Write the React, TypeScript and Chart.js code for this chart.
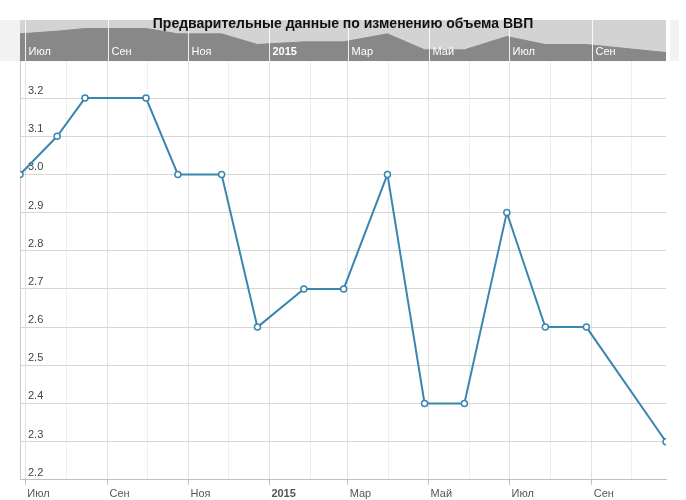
import { useEffect, useRef } from "react"
import { Chart, registerables } from "chart.js"

Chart.register(...registerables)

const title = "Предварительные данные по изменению объема ВВП"

// даты оценок и значения
const dates = [
  "2014-06-27", "2014-07-25", "2014-08-15", "2014-09-30", "2014-10-24", "2014-11-26",
  "2014-12-23", "2015-01-27", "2015-02-26", "2015-03-31", "2015-04-28", "2015-05-28",
  "2015-06-29", "2015-07-28", "2015-08-28", "2015-10-27",
]
const values = [3.0, 3.1, 3.2, 3.2, 3.0, 3.0, 2.6, 2.7, 2.7, 3.0, 2.4, 2.4, 2.9, 2.6, 2.6, 2.3]

// деления оси X (начало месяца)
const xTickDates = [
  "2014-07-01", "2014-08-01", "2014-09-01", "2014-10-01", "2014-11-01", "2014-12-01",
  "2015-01-01", "2015-02-01", "2015-03-01", "2015-04-01", "2015-05-01", "2015-06-01",
  "2015-07-01", "2015-08-01", "2015-09-01", "2015-10-01",
]
const xTickLabels = ["Июл", "", "Сен", "", "Ноя", "", "2015", "", "Мар", "", "Май", "", "Июл", "", "Сен", ""]
const yTicks = [2.2, 2.3, 2.4, 2.5, 2.6, 2.7, 2.8, 2.9, 3.0, 3.1, 3.2]

const FONT = "'Liberation Sans', Arial, sans-serif"
const DAY = 86400000
const toDay = (s: string) => Date.parse(s) / DAY

const navigatorPlugin = {
  id: "navigator",
  beforeDatasetsDraw(chart: any) {
    const { ctx, chartArea, scales } = chart
    const nav = scales.yNav
    const h = nav.bottom - nav.top
    ctx.save()
    ctx.fillStyle = "#f2f2f2"
    ctx.fillRect(0, nav.top, chartArea.left, h)
    ctx.fillRect(chartArea.right + 4, nav.top, 9, h)
    ctx.fillStyle = "#d3d3d3"
    ctx.fillRect(chartArea.left, nav.top, chartArea.right - chartArea.left, h)
    ctx.restore()
  },
  afterDatasetsDraw(chart: any) {
    const { ctx, scales } = chart
    const nav = scales.yNav
    const x = scales.x
    ctx.save()
    ctx.textBaseline = "middle"
    ctx.textAlign = "left"
    xTickDates.forEach((d, i) => {
      const label = xTickLabels[i]
      if (!label) return
      const px = Math.round(x.getPixelForValue(toDay(d))) + 0.5
      ctx.strokeStyle = "rgba(255,255,255,0.85)"
      ctx.lineWidth = 1
      ctx.beginPath()
      ctx.moveTo(px, nav.top)
      ctx.lineTo(px, nav.bottom)
      ctx.stroke()
      ctx.fillStyle = "#ffffff"
      ctx.font = (label === "2015" ? "bold " : "") + "11px " + FONT
      ctx.fillText(label, px + 3, nav.bottom - 9.5)
    })
    ctx.restore()
  },
  afterDraw(chart: any) {
    const { ctx } = chart
    ctx.save()
    ctx.font = "bold 14px " + FONT
    ctx.fillStyle = "#111"
    ctx.textAlign = "center"
    ctx.textBaseline = "alphabetic"
    ctx.fillText(title, chart.width / 2, 27.5)
    ctx.restore()
  },
}

export default function App() {
  const chartRef = useRef<HTMLCanvasElement>(null)
  const chartInstance = useRef<Chart | null>(null)

  useEffect(() => {
    if (!chartRef.current) return
    if (chartInstance.current) chartInstance.current.destroy()

    const points = dates.map((d, i) => ({ x: toDay(d), y: values[i] }))
    const lineColor = "#3a86b0"

    chartInstance.current = new Chart(chartRef.current, {
      type: "line",
      data: {
        datasets: [
          {
            label: "ВВП",
            data: points,
            yAxisID: "y",
            borderColor: lineColor,
            borderWidth: 2,
            pointRadius: 3,
            pointBorderWidth: 1.5,
            pointBackgroundColor: "#ffffff",
            pointBorderColor: lineColor,
            tension: 0,
          },
          {
            label: "navigator",
            data: points,
            yAxisID: "yNav",
            borderColor: "#888888",
            borderWidth: 1,
            backgroundColor: "#888888",
            fill: "start",
            pointRadius: 0,
            tension: 0,
          },
        ],
      },
      options: {
        animation: false,
        responsive: true,
        maintainAspectRatio: false,
        events: [],
        layout: { padding: { top: 20, left: 4, right: 20, bottom: -4 } },
        font: { family: FONT },
        plugins: {
          legend: { display: false },
          tooltip: { enabled: false },
          title: { display: false },
        },
        scales: {
          x: {
            type: "linear",
            min: toDay(dates[0]),
            max: toDay(dates[dates.length - 1]),
            afterBuildTicks: (s: any) => {
              s.ticks = xTickDates.map((d) => ({ value: toDay(d) }))
            },
            ticks: {
              autoSkip: false,
              maxRotation: 0,
              align: "start",
              labelOffset: 2,
              padding: 3,
              color: "#555",
              font: (c: any) => ({
                family: FONT,
                size: 11,
                weight: xTickLabels[c.index] === "2015" ? "bold" : "normal",
              }),
              callback: (_v: any, i: number) => xTickLabels[i],
            },
            grid: {
              color: (c: any) => (xTickLabels[c.index] ? "#e2e2e2" : "#eeeeee"),
              tickColor: (c: any) => (xTickLabels[c.index] ? "#c0c0c0" : "rgba(0,0,0,0)"),
              tickLength: 5,
            },
            border: { display: true, color: "#c0c0c0" },
          },
          y: {
            type: "linear",
            position: "left",
            stack: "v",
            stackWeight: 418,
            min: 2.2,
            max: 3.297,
            afterBuildTicks: (s: any) => {
              s.ticks = yTicks.map((v) => ({ value: v }))
            },
            ticks: {
              mirror: true,
              padding: 8,
              labelOffset: -7,
              color: "#444",
              font: { family: FONT, size: 11 },
              callback: (v: any) => Number(v).toFixed(1),
            },
            grid: { color: "#d6d6d6", drawTicks: false },
            border: { display: true, color: "#c8c8c8" },
          },
          yNav: {
            type: "linear",
            position: "left",
            stack: "v",
            stackWeight: 41,
            min: 1.98,
            max: 3.52,
            ticks: { display: false },
            grid: { display: false, drawTicks: false },
            border: { display: false },
          },
        },
      },
      plugins: [navigatorPlugin],
    } as any)

    return () => {
      if (chartInstance.current) {
        chartInstance.current.destroy()
        chartInstance.current = null
      }
    }
  }, [])

  return (
    <div style={{ position: "fixed", left: 0, top: 0, width: 686, height: 500, background: "#fff" }}>
      <canvas ref={chartRef} />
    </div>
  )
}
